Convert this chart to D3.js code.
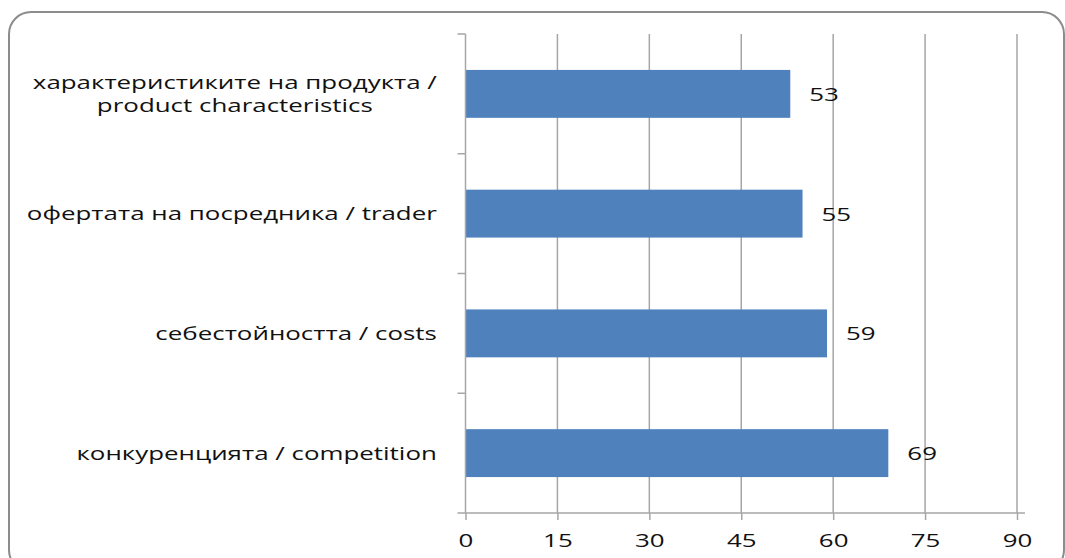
<!DOCTYPE html>
<html>
<head>
<meta charset="utf-8">
<script src="https://cdn.jsdelivr.net/npm/d3@7"></script>
<style>
  html, body { margin: 0; padding: 0; background: #fff; }
  svg { display: block; }
  text { font-family: "Open Sans", "Noto Sans", sans-serif; fill: #111; }
</style>
</head>
<body>
<svg id="chart" width="1065" height="558"></svg>
<script>
// Factors influencing price (top to bottom)
const categories = [
  "характеристиките на продукта / product characteristics",
  "офертата на посредника / trader",
  "себестойността / costs",
  "конкуренцията / competition"
];
const values = [53, 55, 59, 69];
const tickValues = [0, 15, 30, 45, 60, 75, 90];

const plot = { left: 465.5, right: 1017, top: 34, bottom: 513 };
const stretch = 1.44;      // horizontal stretch of all text
const fontSize = 18;
const gridColor = "#a6a6a6";
const barColor = "#4f81bd";

const svg = d3.select("#chart");

// outer rounded frame
svg.append("rect")
  .attr("x", 9).attr("y", 12)
  .attr("width", 1055).attr("height", 560)
  .attr("rx", 22).attr("ry", 22)
  .attr("fill", "#fff")
  .attr("stroke", "#8c8c8c").attr("stroke-width", 2);

const x = d3.scaleLinear().domain([0, 90]).range([plot.left, plot.right]);
const y = d3.scaleBand()
  .domain(categories)
  .range([plot.top, plot.bottom])
  .paddingInner(0.6).paddingOuter(0.3);

// vertical gridlines
svg.append("g").selectAll("line")
  .data(tickValues.slice(1))
  .join("line")
  .attr("x1", d => x(d)).attr("x2", d => x(d))
  .attr("y1", plot.top).attr("y2", plot.bottom)
  .attr("stroke", gridColor).attr("stroke-width", 1.5);

// bars
svg.append("g").selectAll("rect")
  .data(values)
  .join("rect")
  .attr("x", x(0))
  .attr("y", (d, i) => y(categories[i]))
  .attr("width", d => x(d) - x(0))
  .attr("height", y.bandwidth())
  .attr("fill", barColor);

// value axis (bottom)
const xAxis = svg.append("g")
  .attr("transform", `translate(0,${plot.bottom})`)
  .call(d3.axisBottom(x).tickValues(tickValues).tickSize(7).tickPadding(0).tickFormat(d3.format("d")));
xAxis.select(".domain").attr("stroke", gridColor).attr("stroke-width", 1.5)
  .attr("d", `M${plot.left - 8},0H${plot.right + 8}`);
xAxis.selectAll(".tick line").attr("stroke", gridColor).attr("stroke-width", 1.5);
xAxis.selectAll(".tick text").remove();
xAxis.selectAll(".tick").append("g")
  .attr("transform", `translate(0,34) scale(${stretch},1)`)
  .append("text")
  .attr("text-anchor", "middle")
  .attr("font-size", fontSize)
  .text(d => d);

// category axis (left)
const catStep = y.step();
const catTicks = d3.range(categories.length + 1).map(i => plot.top + i * catStep);
svg.append("line")
  .attr("x1", plot.left).attr("x2", plot.left)
  .attr("y1", plot.top).attr("y2", plot.bottom)
  .attr("stroke", gridColor).attr("stroke-width", 1.5);
svg.append("g").selectAll("line")
  .data(catTicks.slice(0, -1))
  .join("line")
  .attr("x1", plot.left - 8).attr("x2", plot.left)
  .attr("y1", d => d).attr("y2", d => d)
  .attr("stroke", gridColor).attr("stroke-width", 1.5);

// category labels, wrapped after " / " when too long
const labelRight = 437;
const maxLabelWidth = 420;
const catG = svg.append("g");
categories.forEach(cat => {
  const cy = y(cat) + y.bandwidth() / 2;
  const g = catG.append("g");
  const probe = g.append("text").attr("font-size", fontSize).text(cat);
  const full = probe.node().getComputedTextLength() * stretch;
  probe.remove();
  let lines = [cat];
  if (full > maxLabelWidth) {
    const k = cat.indexOf(" / ");
    lines = [cat.slice(0, k + 2), cat.slice(k + 3)];
  }
  const texts = lines.map(l => g.append("text").attr("font-size", fontSize).text(l));
  const widths = texts.map(t => t.node().getComputedTextLength() * stretch);
  const blockW = d3.max(widths);
  const lineH = 23;
  const cx = labelRight - blockW / 2;
  texts.forEach((t, i) => {
    const by = cy + 6.5 + (i - (lines.length - 1) / 2) * lineH;
    t.attr("text-anchor", "middle")
     .attr("transform", `translate(${cx},${by}) scale(${stretch},1)`);
  });
});

// value labels
svg.append("g").selectAll("text")
  .data(values)
  .join("text")
  .attr("text-anchor", "start")
  .attr("font-size", fontSize)
  .attr("transform", (d, i) => `translate(${x(d) + 19},${y(categories[i]) + y.bandwidth() / 2 + 7}) scale(${stretch},1)`)
  .text(d => d);
</script>
</body>
</html>
